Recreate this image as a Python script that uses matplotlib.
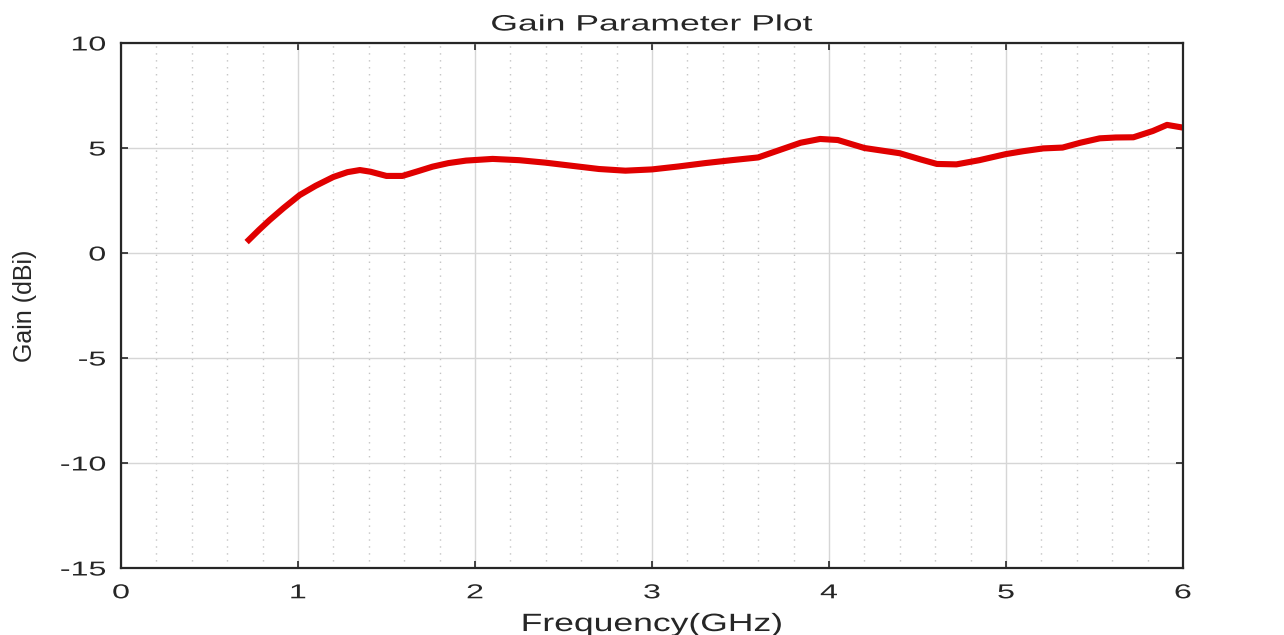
import numpy as np
import matplotlib
matplotlib.use('Agg')
import matplotlib.pyplot as plt
from matplotlib.ticker import MultipleLocator
from matplotlib.patheffects import AbstractPathEffect
from matplotlib.transforms import Affine2D

plt.rcParams['font.family'] = ['Liberation Sans', 'DejaVu Sans']
plt.rcParams['axes.unicode_minus'] = False

# values
freq_ghz = [0.71, 0.78, 0.84, 0.92, 1.01, 1.10, 1.20, 1.28, 1.35, 1.41, 1.50, 1.59,
            1.68, 1.76, 1.85, 1.95, 2.10, 2.25, 2.40, 2.55, 2.70, 2.85, 3.00,
            3.15, 3.30, 3.45, 3.60, 3.72, 3.84, 3.95, 4.05, 4.20, 4.40, 4.52,
            4.61, 4.72, 4.85, 5.00, 5.10, 5.21, 5.32, 5.42, 5.53, 5.62, 5.72,
            5.83, 5.91, 6.00]
gain_dbi = [0.52, 1.10, 1.57, 2.15, 2.76, 3.20, 3.62, 3.85, 3.95, 3.87, 3.67, 3.67,
            3.90, 4.11, 4.28, 4.40, 4.48, 4.42, 4.30, 4.15, 4.00, 3.92, 3.98,
            4.12, 4.28, 4.42, 4.55, 4.90, 5.25, 5.43, 5.38, 5.00, 4.75, 4.45,
            4.24, 4.22, 4.42, 4.71, 4.85, 4.98, 5.02, 5.25, 5.46, 5.50, 5.51,
            5.81, 6.10, 5.97]


class Stretch(AbstractPathEffect):
    """Widen glyphs along the baseline (the reference text looks stretched)."""

    def __init__(self, sx, anchor='center'):
        super().__init__()
        self.sx = sx
        self.anchor = anchor

    def draw_path(self, renderer, gc, tpath, affine, rgbFace=None):
        ext = tpath.get_extents()
        if self.anchor == 'right':
            cx = ext.x1
        elif self.anchor == 'left':
            cx = ext.x0
        else:
            cx = (ext.x0 + ext.x1) / 2
        tr = Affine2D().translate(-cx, 0).scale(self.sx, 1).translate(cx, 0)
        renderer.draw_path(gc, tpath, tr + affine, rgbFace)


fig = plt.figure(figsize=(12.84, 6.35), dpi=100)
ax = fig.add_axes([0.0942, 0.1055, 0.9213 - 0.0942, 0.9323 - 0.1055])

ax.plot(freq_ghz, gain_dbi, color='#e00000', linewidth=4.4, solid_capstyle='butt')

ax.set_xlim(0, 6)
ax.set_ylim(-15, 10)
ax.xaxis.set_major_locator(MultipleLocator(1))
ax.xaxis.set_minor_locator(MultipleLocator(0.2))
ax.yaxis.set_major_locator(MultipleLocator(5))

ax.grid(True, which='major', color='#d6d6d6', linewidth=1.0)
ax.grid(True, which='minor', axis='x', color='#c4c4c4', linestyle=(0, (1, 4)), linewidth=1.0)
ax.set_axisbelow(True)

ax.tick_params(which='major', direction='in', top=True, right=True, length=5,
               width=1.2, labelsize=14.5, colors='#262626')
ax.tick_params(axis='x', pad=11)
ax.tick_params(axis='y', pad=11)
ax.tick_params(which='minor', length=0)
for s in ax.spines.values():
    s.set_linewidth(1.6)
    s.set_color('#262626')

for lbl in ax.get_xticklabels():
    lbl.set_path_effects([Stretch(1.6, 'center')])
for lbl in ax.get_yticklabels():
    lbl.set_path_effects([Stretch(1.6, 'right')])

ttl = ax.set_title('Gain Parameter Plot', fontsize=16, color='#262626', pad=9)
ttl.set_path_effects([Stretch(1.6, 'center')])

xl = ax.set_xlabel('Frequency(GHz)', fontsize=18, color='#262626')
ax.xaxis.set_label_coords(0.5, (568 - 631) / 525)
xl.set_va('baseline')
xl.set_path_effects([Stretch(1.42, 'center')])

yl = ax.set_ylabel('Gain (dBi)', fontsize=18, color='#262626')
ax.yaxis.set_label_coords((25 - 121) / 1062, 0.5)
yl.set_va('center')

fig.savefig('out.png', dpi=100)
